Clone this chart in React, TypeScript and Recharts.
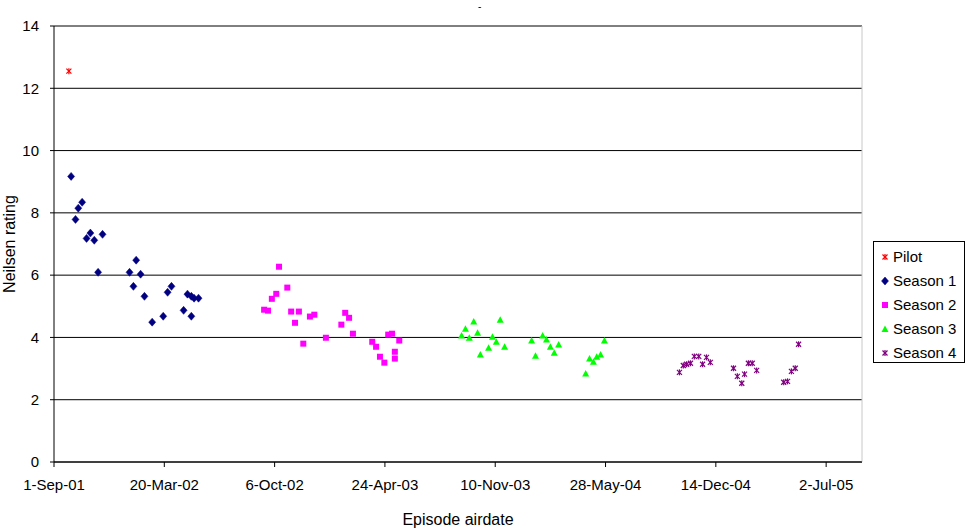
import React from 'react';
import { ScatterChart, Scatter, XAxis, YAxis, CartesianGrid, ReferenceLine } from 'recharts';

// x values: days after 1-Sep-01
const pilotDays = [27];
const pilotRatings = [12.55];

const season1Days = [31, 39, 44, 51, 59, 66, 73, 80, 88, 137, 144, 149, 157, 164, 178, 198, 206, 213, 235, 242, 249, 249, 254, 262];
const season1Ratings = [9.17, 7.79, 8.15, 8.34, 7.18, 7.35, 7.12, 6.09, 7.31, 6.09, 5.64, 6.48, 6.03, 5.32, 4.49, 4.68, 5.45, 5.64, 4.87, 5.39, 5.32, 4.68, 5.26, 5.26];

const season2Days = [381, 388, 395, 403, 408, 423, 430, 437, 444, 452, 464, 472, 493, 521, 528, 535, 542, 577, 584, 591, 599, 606, 613, 618, 618, 626];
const season2Ratings = [4.89, 4.86, 5.24, 5.40, 6.27, 5.60, 4.83, 4.47, 4.83, 3.80, 4.67, 4.73, 3.99, 4.41, 4.79, 4.63, 4.12, 3.86, 3.70, 3.38, 3.19, 4.09, 4.12, 3.54, 3.32, 3.90];

const season3Days = [739, 746, 753, 761, 768, 773, 788, 795, 802, 809, 817, 866, 873, 886, 893, 900, 907, 915, 964, 971, 978, 984, 991, 998];
const season3Ratings = [4.06, 4.28, 3.99, 4.51, 4.15, 3.45, 3.67, 4.02, 3.86, 4.57, 3.70, 3.90, 3.41, 4.06, 3.93, 3.70, 3.51, 3.77, 2.84, 3.32, 3.22, 3.38, 3.45, 3.90];

const season4Days = [1134, 1141, 1147, 1154, 1161, 1169, 1176, 1183, 1190, 1232, 1239, 1247, 1252, 1259, 1266, 1274, 1323, 1330, 1337, 1344, 1350];
const season4Ratings = [2.88, 3.10, 3.14, 3.17, 3.39, 3.39, 3.14, 3.36, 3.20, 3.01, 2.75, 2.53, 2.82, 3.17, 3.17, 2.94, 2.56, 2.59, 2.91, 3.01, 3.78];

const xTicks = [0, 200, 400, 600, 800, 1000, 1200, 1400];
const xTickLabels = ['1-Sep-01', '20-Mar-02', '6-Oct-02', '24-Apr-03', '10-Nov-03', '28-May-04', '14-Dec-04', '2-Jul-05'];
const xMax = 1465;
const yTicks = [0, 2, 4, 6, 8, 10, 12, 14];

const seriesNames = ['Pilot', 'Season 1', 'Season 2', 'Season 3', 'Season 4'];

const FONT = '"Liberation Sans", Arial, sans-serif';

const toData = (xs: number[], ys: number[]) => xs.map((x, i) => ({ x, y: ys[i] }));

const Star = ({ cx, cy, color }: { cx: number; cy: number; color: string }) => (
  <g stroke={color} strokeWidth={1.2} fill="none">
    <line x1={cx - 2.5} y1={cy - 2.5} x2={cx + 2.5} y2={cy + 2.5} />
    <line x1={cx - 2.5} y1={cy + 2.5} x2={cx + 2.5} y2={cy - 2.5} />
    <line x1={cx} y1={cy - 3} x2={cx} y2={cy + 3} />
  </g>
);

const Diamond = ({ cx, cy, color }: { cx: number; cy: number; color: string }) => (
  <polygon points={`${cx},${cy - 4} ${cx + 3.5},${cy} ${cx},${cy + 4} ${cx - 3.5},${cy}`} fill={color} stroke={color} strokeWidth={0.5} />
);

const Square = ({ cx, cy, color }: { cx: number; cy: number; color: string }) => (
  <rect x={cx - 3} y={cy - 3} width={6} height={6} fill={color} />
);

const Triangle = ({ cx, cy, color }: { cx: number; cy: number; color: string }) => (
  <polygon points={`${cx},${cy - 3.5} ${cx + 3.5},${cy + 3} ${cx - 3.5},${cy + 3}`} fill={color} />
);

const colors = ['#FF0000', '#000080', '#FF00FF', '#00FF00', '#800080'];
const shapes = [Star, Diamond, Square, Triangle, Star];

const datasets = [
  toData(pilotDays, pilotRatings),
  toData(season1Days, season1Ratings),
  toData(season2Days, season2Ratings),
  toData(season3Days, season3Ratings),
  toData(season4Days, season4Ratings),
];

export default function App() {
  return (
    <div style={{ position: 'absolute', left: 0, top: 0, width: 966, height: 528, background: '#fff', fontFamily: FONT }}>
      <ScatterChart width={966} height={528} margin={{ top: 26, right: 104, bottom: 0, left: 10 }} style={{ fontFamily: FONT }}>
        <CartesianGrid horizontal vertical={false} stroke="#000" strokeWidth={1} />
        <ReferenceLine x={xMax} stroke="#c8c8c8" strokeWidth={1} ifOverflow="extendDomain" />
        <XAxis
          type="number"
          dataKey="x"
          domain={[0, xMax]}
          ticks={xTicks}
          allowDataOverflow
          tickFormatter={(v: number) => xTickLabels[xTicks.indexOf(v)]}
          tickSize={5}
          tickMargin={12}
          height={66}
          stroke="#000"
          axisLine={{ stroke: '#000' }}
          tickLine={{ stroke: '#000' }}
          tick={{ fontSize: 15, fill: '#000', fontFamily: FONT }}
          label={{ value: 'Episode airdate', position: 'insideBottom', offset: 3, fontSize: 16, fill: '#000', fontFamily: FONT }}
        />
        <YAxis
          type="number"
          dataKey="y"
          domain={[0, 14]}
          ticks={yTicks}
          tickSize={4}
          tickMargin={11}
          width={44}
          stroke="#000"
          axisLine={{ stroke: '#000' }}
          tickLine={{ stroke: '#000' }}
          tick={{ fontSize: 15, fill: '#000', fontFamily: FONT }}
          label={{ value: 'Neilsen rating', angle: -90, position: 'insideLeft', offset: -1, fontSize: 16, fill: '#000', fontFamily: FONT, style: { textAnchor: 'middle' } }}
        />
        {datasets.map((d, i) => {
          const Shape = shapes[i];
          return (
            <Scatter
              key={seriesNames[i]}
              name={seriesNames[i]}
              data={d}
              isAnimationActive={false}
              shape={(p: any) => <Shape cx={p.cx} cy={p.cy} color={colors[i]} />}
            />
          );
        })}
      </ScatterChart>
      <svg style={{ position: 'absolute', left: 0, top: 0 }} width={966} height={20}>
        <text x={478} y={10} fontSize={10} fontFamily={FONT} fill="#000">-</text>
      </svg>
      <div
        style={{
          position: 'absolute',
          left: 873,
          top: 241,
          width: 92,
          height: 122,
          border: '1px solid #000',
          boxSizing: 'border-box',
          background: '#fff',
        }}
      >
        {seriesNames.map((name, i) => {
          const Shape = shapes[i];
          return (
            <div key={name} style={{ position: 'absolute', left: 4, top: 15 + i * 24 - 10, height: 20, display: 'flex', alignItems: 'center' }}>
              <svg width={14} height={14} style={{ display: 'block' }}>
                <Shape cx={7} cy={7} color={colors[i]} />
              </svg>
              <span style={{ fontSize: 15, color: '#000', marginLeft: 1, whiteSpace: 'nowrap', lineHeight: '20px' }}>{name}</span>
            </div>
          );
        })}
      </div>
    </div>
  );
}
